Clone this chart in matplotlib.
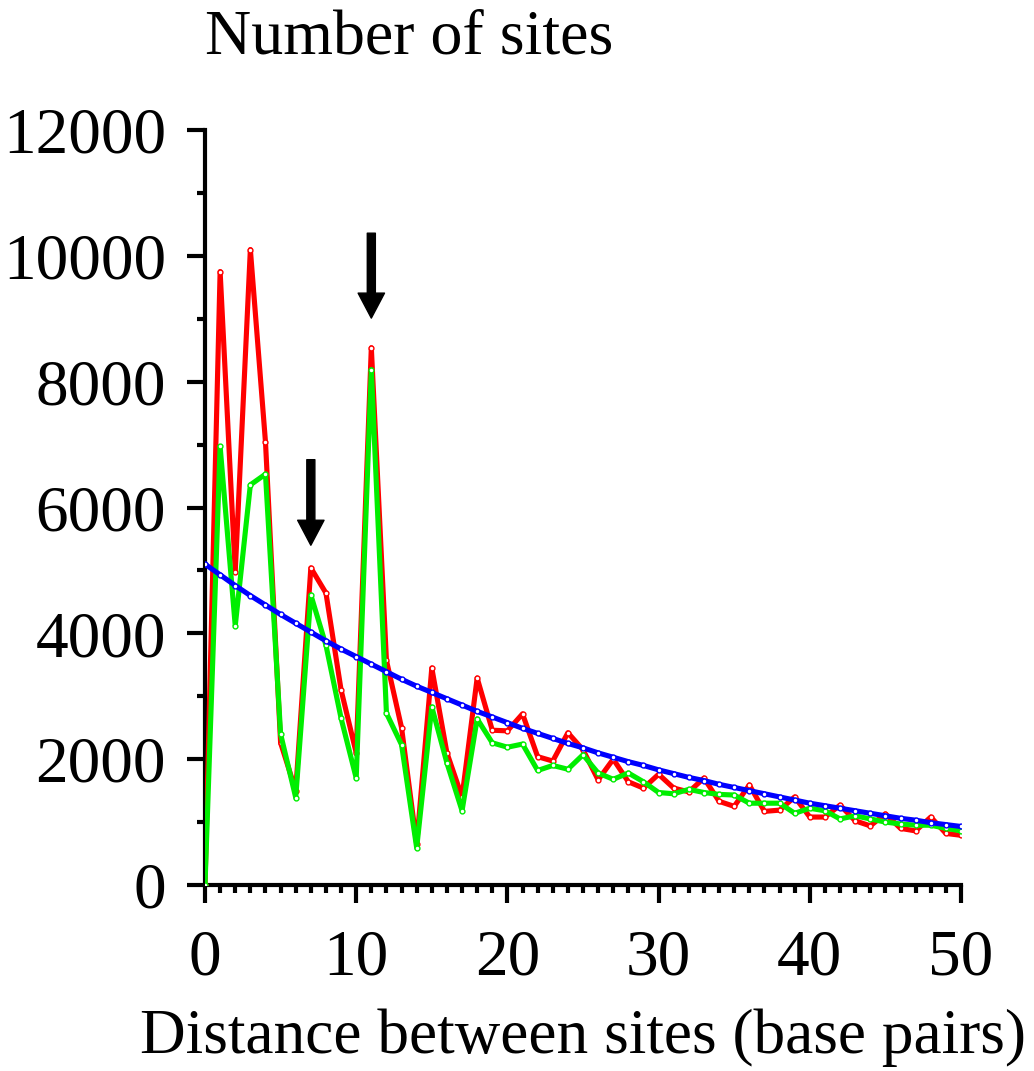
import matplotlib
matplotlib.use("Agg")
import matplotlib.pyplot as plt
from matplotlib.ticker import MultipleLocator

distance = list(range(0, 51))

red_counts = [0, 9750, 4980, 10100, 7040, 2260, 1500, 5040, 4640, 3100,
              2100, 8540, 3570, 2500, 650, 3450, 2100, 1400, 3290, 2460,
              2450, 2720, 2040, 1970, 2420, 2150, 1670, 2000, 1640, 1540,
              1760, 1540, 1480, 1700, 1330, 1250, 1590, 1170, 1190, 1400,
              1080, 1080, 1270, 1020, 940, 1130, 900, 860, 1080, 820, 790]

green_counts = [0, 6970, 4120, 6360, 6530, 2400, 1390, 4610, 3810, 2650,
                1700, 8190, 2730, 2230, 590, 2830, 1940, 1180, 2640, 2260,
                2190, 2240, 1820, 1900, 1840, 2070, 1780, 1680, 1780, 1640,
                1470, 1450, 1520, 1470, 1440, 1430, 1300, 1300, 1300, 1140,
                1220, 1180, 1050, 1100, 1050, 1000, 970, 950, 950, 900, 860]

blue_fit = [5100, 4930, 4760, 4600, 4450, 4300, 4160, 4020, 3880, 3750,
            3630, 3510, 3390, 3270, 3160, 3060, 2960, 2860, 2760, 2670,
            2580, 2490, 2410, 2330, 2250, 2180, 2100, 2030, 1960, 1900,
            1830, 1770, 1710, 1660, 1600, 1550, 1500, 1450, 1400, 1350,
            1300, 1260, 1220, 1180, 1140, 1100, 1060, 1030, 990, 960, 930]

arrow_x = [7, 11]
arrow_top = [6760, 10360]
arrow_tip = [5400, 9010]

plt.rcParams['font.family'] = ['Liberation Serif', 'DejaVu Serif']

fig = plt.figure(figsize=(10.34, 10.71), dpi=100)
ax = fig.add_axes([205/1034, 1-885/1071, (961-205)/1034, (885-130)/1071])

mk = dict(marker='o', markersize=3.5, markerfacecolor='white', markeredgewidth=1.0)
ax.plot(distance, red_counts, color='#ff0000', lw=3.7, markeredgecolor='#ff0000', zorder=3, **mk)
ax.plot(distance, green_counts, color='#00ee00', lw=3.7, markeredgecolor='#00ee00', zorder=4, **mk)
ax.plot(distance, blue_fit, color='#0000ff', lw=3.7, markeredgecolor='#0000ff', zorder=5, **mk)

for xa, yt, yb in zip(arrow_x, arrow_top, arrow_tip):
    ax.annotate('', xy=(xa, yb), xytext=(xa, yt),
                arrowprops=dict(width=5.8, headwidth=19, headlength=18, shrink=0,
                                facecolor='black', edgecolor='black'),
                zorder=6)

ax.set_xlim(0, 50)
ax.set_ylim(0, 12000)
ax.spines['top'].set_visible(False)
ax.spines['right'].set_visible(False)
for s in ['left', 'bottom']:
    ax.spines[s].set_linewidth(3.0)

ax.xaxis.set_major_locator(MultipleLocator(10))
ax.xaxis.set_minor_locator(MultipleLocator(1))
ax.yaxis.set_major_locator(MultipleLocator(2000))
ax.yaxis.set_minor_locator(MultipleLocator(1000))
ax.tick_params(which='major', direction='out', length=13, width=3.0, labelsize=47, pad=15)
ax.tick_params(axis='x', which='major', pad=19)
ax.tick_params(which='minor', direction='out', length=6, width=3.0)

for lab in ax.get_xticklabels() + ax.get_yticklabels():
    lab.set_fontfamily(['Liberation Serif', 'DejaVu Serif'])

fig.text(205/1034, 1-38/1071, 'Number of sites', fontsize=46, ha='left', va='center')
ax.set_xlabel('Distance between sites (base pairs)', fontsize=45.5, labelpad=14)

fig.savefig('out.png', dpi=100)
